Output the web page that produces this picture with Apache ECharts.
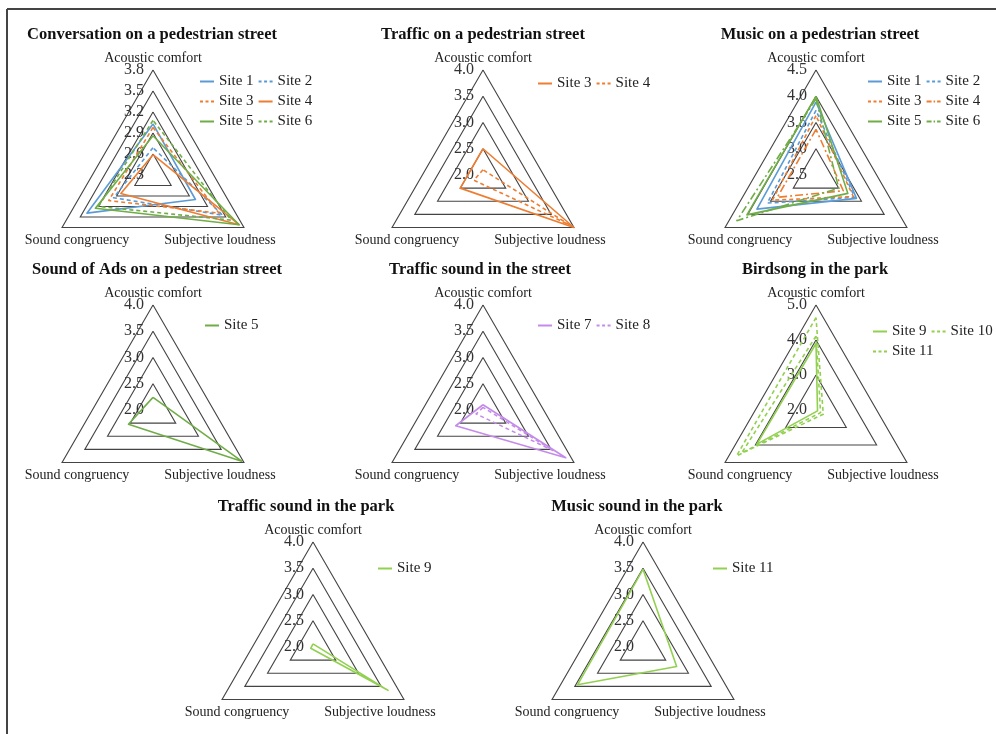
<!DOCTYPE html>
<html><head><meta charset="utf-8">
<script src="https://cdn.jsdelivr.net/npm/echarts@6/dist/echarts.min.js"></script>
<style>html,body{margin:0;padding:0;background:#fff}#c{width:996px;height:734px}</style>
</head><body><div id="c"></div>
<script>
// ---------- DATA ----------
const axisNames = ['Acoustic comfort', 'Sound congruency', 'Subjective loudness'];
const chartTitles = [
  'Conversation on a pedestrian street', 'Traffic on a pedestrian street', 'Music on a pedestrian street',
  'Sound of Ads on a pedestrian street', 'Traffic sound in the street', 'Birdsong in the park',
  'Traffic sound in the park', 'Music sound in the park'
];
// scale of each radar (center value, outer value, ring count)
const scaleMin = [2.3, 2.0, 2.5, 2.0, 2.0, 2.0, 2.0, 2.0];
const scaleMax = [3.8, 4.0, 4.5, 4.0, 4.0, 5.0, 4.0, 4.0];
const ringCount = [5, 4, 4, 4, 4, 3, 4, 4];

// values order: [Acoustic comfort, Sound congruency, Subjective loudness]
const convSites = ['Site 1', 'Site 2', 'Site 3', 'Site 4', 'Site 5', 'Site 6'];
const convValues = [[3.03, 3.39, 3.00], [2.69, 2.95, 3.45], [2.98, 3.03, 3.39], [2.59, 2.83, 3.72], [2.86, 3.25, 3.72], [3.08, 3.20, 3.59]];
const trafPedSites = ['Site 3', 'Site 4'];
const trafPedValues = [[2.5, 2.5, 4.0], [2.1, 2.2, 3.9]];
const musicPedSites = ['Site 1', 'Site 2', 'Site 3', 'Site 4', 'Site 5', 'Site 6'];
const musicPedValues = [[3.89, 3.80, 3.39], [3.73, 3.57, 3.35], [3.63, 3.46, 3.32], [3.37, 3.35, 3.10], [4.00, 4.02, 3.20], [3.95, 4.24, 3.00]];
const adsSites = ['Site 5'];
const adsValues = [[2.24, 2.54, 3.95]];
const trafStreetSites = ['Site 7', 'Site 8'];
const trafStreetValues = [[2.10, 2.60, 3.82], [2.05, 2.15, 3.55]];
const birdSites = ['Site 9', 'Site 10', 'Site 11'];
const birdValues = [[3.90, 3.95, 2.05], [4.64, 4.62, 2.24], [4.11, 4.45, 2.15]];
const trafParkSites = ['Site 9'];
const trafParkValues = [[2.06, 2.05, 3.65]];
const musicParkSites = ['Site 11'];
const musicParkValues = [[3.48, 3.44, 2.74]];

// ---------- STYLE / LAYOUT ----------
const BLUE = '#5B9BD5', ORANGE = '#ED7D31', GREEN = '#70AD47', LGREEN = '#92D050', PURPLE = '#C58BEA';
const styles = [
  [[BLUE, 'solid'], [BLUE, 'dashed'], [ORANGE, 'dashed'], [ORANGE, 'solid'], [GREEN, 'solid'], [GREEN, 'dashed']],
  [[ORANGE, 'solid'], [ORANGE, 'dashed']],
  [[BLUE, 'solid'], [BLUE, 'dashed'], [ORANGE, 'dashed'], [ORANGE, 'dashdot'], [GREEN, 'solid'], [GREEN, 'dashdot']],
  [[GREEN, 'solid']],
  [[PURPLE, 'solid'], [PURPLE, 'dashed']],
  [[LGREEN, 'solid'], [LGREEN, 'dashed'], [LGREEN, 'dashed']],
  [[LGREEN, 'solid']],
  [[LGREEN, 'solid']]
];
const allSites = [convSites, trafPedSites, musicPedSites, adsSites, trafStreetSites, birdSites, trafParkSites, musicParkSites];
const allValues = [convValues, trafPedValues, musicPedValues, adsValues, trafStreetValues, birdValues, trafParkValues, musicParkValues];

const centersX = [153, 483, 816, 153, 483, 816, 313, 643];
const centersY = [175, 175, 175, 410, 410, 410, 647, 647];
const R = 105;
const titleX = [152, 483, 820, 157, 480, 815, 306, 637];
const legendPos = [[200, 74, 115], [538, 76, 115], [868, 74, 115], [205, 318, 115], [538, 318, 115], [873, 324, 125], [378, 561, 115], [713, 561, 115]];

const FONT = '"Liberation Serif","Times New Roman",serif';
const dashMap = { solid: 'solid', dashed: [4, 3], dashdot: [8, 3, 2, 3] };
const iconMap = {
  solid: 'path://M0,0H14V2H0Z',
  dashed: 'path://M0,0H3V2H0Z M5.5,0H8.5V2H5.5Z M11,0H14V2H11Z',
  dashdot: 'path://M0,0H5V2H0Z M7,0H8.5V2H7Z M10.5,0H14V2H10.5Z'
};

const radars = [], series = [], legends = [], graphics = [];

for (let k = 0; k < 8; k++) {
  const cx = centersX[k], cy = centersY[k];
  radars.push({
    center: [cx, cy], radius: R, startAngle: 90, shape: 'polygon', splitNumber: ringCount[k],
    indicator: axisNames.map((n, i) => {
      const ind = { name: n, min: scaleMin[k], max: scaleMax[k] };
      if (i === 0) ind.axisLabel = {
        show: true, fontFamily: FONT, fontSize: 16, color: '#333', margin: 9,
        formatter: v => Number(v).toFixed(1)
      };
      return ind;
    }),
    axisName: { show: false },
    axisLine: { show: false },
    axisTick: { show: false },
    axisLabel: { show: false },
    splitArea: { show: false },
    splitLine: { lineStyle: { color: '#444', width: 1.1 } }
  });
  allSites[k].forEach((s, j) => {
    const [col, dash] = styles[k][j];
    series.push({
      type: 'radar', radarIndex: k, name: s, symbol: 'none', silent: true,
      lineStyle: { color: col, width: 1.6, type: dashMap[dash] },
      itemStyle: { color: col },
      data: [{ name: s, value: allValues[k][j] }]
    });
  });
  const lp = legendPos[k];
  legends.push({
    left: lp[0], top: lp[1], width: lp[2], padding: 0, orient: 'horizontal',
    itemWidth: 14, itemHeight: 2, itemGap: 5, selectedMode: false,
    textStyle: { fontFamily: FONT, fontSize: 15, color: '#222' },
    data: allSites[k].map((s, j) => ({
      name: s, icon: iconMap[styles[k][j][1]],
      itemStyle: { color: styles[k][j][0], borderWidth: 0 }
    }))
  });
  graphics.push({
    type: 'text', x: titleX[k], y: cy - R - 35,
    style: { text: chartTitles[k], font: 'bold 16.5px ' + FONT, fill: '#111', align: 'center', verticalAlign: 'middle' }
  });
  const nameFont = '14px ' + FONT;
  graphics.push({ type: 'text', x: cx, y: cy - R - 12,
    style: { text: axisNames[0], font: nameFont, fill: '#222', align: 'center', verticalAlign: 'middle' } });
  graphics.push({ type: 'text', x: cx - R * 0.866 + 15, y: cy + R / 2 + 13,
    style: { text: axisNames[1], font: nameFont, fill: '#222', align: 'center', verticalAlign: 'middle' } });
  graphics.push({ type: 'text', x: cx + R * 0.866 - 24, y: cy + R / 2 + 13,
    style: { text: axisNames[2], font: nameFont, fill: '#222', align: 'center', verticalAlign: 'middle' } });
}
// frame
graphics.push({ type: 'line', shape: { x1: 7, y1: 9, x2: 996, y2: 9 }, style: { stroke: '#444', lineWidth: 2 } });
graphics.push({ type: 'line', shape: { x1: 7, y1: 9, x2: 7, y2: 734 }, style: { stroke: '#444', lineWidth: 2 } });

const chart = echarts.init(document.getElementById('c'), null, { renderer: 'canvas' });
chart.setOption({
  animation: false,
  backgroundColor: '#fff',
  radar: radars,
  legend: legends,
  series: series,
  graphic: graphics
});
</script></body></html>
